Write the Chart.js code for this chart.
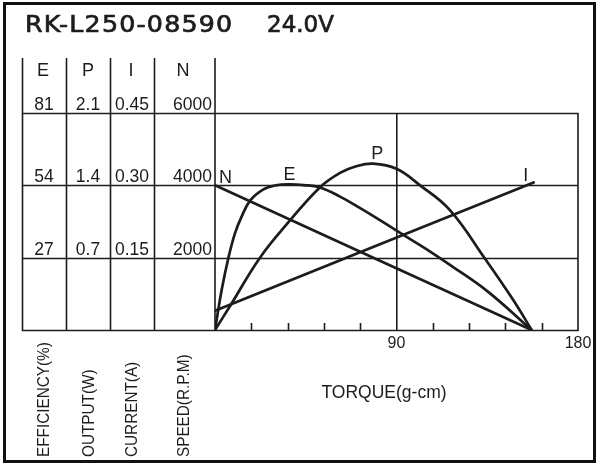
<!DOCTYPE html>
<html><head><meta charset="utf-8">
<script src="https://cdn.jsdelivr.net/npm/chart.js@4.4.1/dist/chart.umd.min.js"></script>
<style>html,body{margin:0;padding:0;background:#fff;}#wrap{width:600px;height:466px;}</style>
</head><body><div id="wrap"><canvas id="c" width="600" height="466"></canvas></div>
<script>
// ---- data ----
const modelName = 'RK-L250-08590';
const voltage = '24.0V';

const torqueN = [0, 157];
const speedN = [4000, 0];

const torqueI = [0, 158];
const currentI = [0.04, 0.306];

const torqueE = [0, 3.3, 6.6, 9.9, 13.2, 17.4, 24, 30, 37, 44, 52, 62, 72, 82, 93.4, 105, 116.5, 135, 157];
const efficiencyE = [0, 14.9, 26.8, 36.1, 42.3, 48.3, 52.5, 54.0, 54.4, 54.1, 53.2, 49.8, 45.5, 40.9, 35.5, 30.1, 24.3, 14.5, 0];

const torqueP = [0, 7.4, 22.3, 37.2, 52, 62, 70, 78.5, 90, 101.7, 116.5, 133.9, 147.9, 157];
const outputP = [0, 0.23, 0.70, 1.06, 1.38, 1.52, 1.585, 1.61, 1.56, 1.40, 1.16, 0.69, 0.29, 0];

const ticksE = [27, 54, 81];
const ticksP = ['0.7', '1.4', '2.1'];
const ticksI = ['0.15', '0.30', '0.45'];
const ticksN = [2000, 4000, 6000];
const labeledTorque = [90, 180];
const columnHeads = ['E', 'P', 'I', 'N'];
const axisTitles = ['EFFICIENCY(%)', 'OUTPUT(W)', 'CURRENT(A)', 'SPEED(R.P.M)'];
const torqueTitle = 'TORQUE(g-cm)';

// ---- build ----
const pts = (xs, ys) => xs.map((x, i) => ({x: x, y: ys[i]}));
const INK = '#1c1c1c';
const FONT = '"Liberation Sans", Arial, sans-serif';

const frame = {
  id: 'frame',
  beforeDatasetsDraw(chart) {
    const ctx = chart.ctx, a = chart.chartArea;
    const x = chart.scales.x, yN = chart.scales.yN;
    const cols = [22.5, 66.5, 110.5, 154.5, a.left];
    ctx.save();
    ctx.strokeStyle = INK;
    ctx.lineWidth = 1.6;
    ctx.beginPath();
    [0].concat(ticksN).forEach(v => {
      const y = Math.round(yN.getPixelForValue(v)) + 0.5;
      ctx.moveTo(cols[0] - 0.8, y); ctx.lineTo(a.right + 0.8, y);
    });
    cols.forEach(cx => { ctx.moveTo(cx, 58); ctx.lineTo(cx, a.bottom); });
    ctx.moveTo(a.right, a.top); ctx.lineTo(a.right, a.bottom);
    ctx.stroke();
    ctx.beginPath();
    x.ticks.forEach(t => {
      if (t.value <= 0 || t.value >= 180 || t.value === 90) return;
      const px = Math.round(x.getPixelForValue(t.value)) + 0.5;
      ctx.moveTo(px, a.bottom); ctx.lineTo(px, a.bottom - 7);
    });
    ctx.stroke();
    ctx.restore();
  },
  afterDraw(chart) {
    const ctx = chart.ctx;
    const s = chart.scales;
    ctx.save();
    ctx.fillStyle = INK;
    ctx.strokeStyle = '#111';
    ctx.lineWidth = 3;
    ctx.strokeRect(4.5, 3.5, 590, 458);
    // title
    ctx.font = '23px "DejaVu Sans", sans-serif';
    ctx.textAlign = 'left'; ctx.textBaseline = 'alphabetic';
    ctx.strokeStyle = INK; ctx.lineWidth = 0.7;
    ctx.save();
    ctx.translate(25, 32);
    ctx.scale(1.1, 1);
    ctx.letterSpacing = '1.1px';
    ctx.fillText(modelName, 0, 0);
    ctx.strokeText(modelName, 0, 0);
    ctx.restore();
    ctx.letterSpacing = '0px';
    ctx.fillText(voltage, 267, 32);
    ctx.strokeText(voltage, 267, 32);
    // column heads
    const centers = [43, 88, 131, 183];
    ctx.font = '18px ' + FONT;
    ctx.textAlign = 'center';
    columnHeads.forEach((h, i) => ctx.fillText(h, centers[i], 76));
    // tick values in table
    ctx.font = '17.5px ' + FONT;
    const rows = [[s.yE, ticksE, 44], [s.yP, ticksP, 88], [s.yI, ticksI, 132]];
    rows.forEach(r => {
      r[1].forEach(v => {
        ctx.fillText(String(v), r[2], r[0].getPixelForValue(Number(v)) - 3);
      });
    });
    ctx.textAlign = 'right';
    ticksN.forEach(v => ctx.fillText(String(v), 212, s.yN.getPixelForValue(v) - 3));
    // vertical axis titles
    ctx.font = '17px ' + FONT;
    ctx.textAlign = 'left'; ctx.textBaseline = 'middle';
    axisTitles.forEach((t, i) => {
      ctx.save();
      ctx.translate(centers[i] + 1, 457);
      ctx.rotate(-Math.PI / 2);
      ctx.scale(0.9, 1);
      ctx.fillText(t, 0, 0);
      ctx.restore();
    });
    // torque title
    ctx.font = '17.5px ' + FONT;
    ctx.textAlign = 'center';
    ctx.fillText(torqueTitle, 384, 393);
    // curve letters
    ctx.font = '18px ' + FONT;
    ctx.textBaseline = 'alphabetic';
    ctx.textAlign = 'left';
    ctx.fillText('N', s.x.getPixelForValue(torqueN[0]) + 4, s.yN.getPixelForValue(speedN[0]) - 2);
    ctx.textAlign = 'center';
    const iE = efficiencyE.indexOf(Math.max(...efficiencyE));
    ctx.fillText('E', s.x.getPixelForValue(torqueE[iE]) + 0, s.yE.getPixelForValue(efficiencyE[iE]) - 4);
    const iP = outputP.indexOf(Math.max(...outputP));
    ctx.fillText('P', s.x.getPixelForValue(torqueP[iP]) + 4, s.yP.getPixelForValue(outputP[iP]) - 5);
    const last = torqueI.length - 1;
    ctx.fillText('I', s.x.getPixelForValue(torqueI[last]) - 8, s.yI.getPixelForValue(currentI[last]) - 1);
    ctx.restore();
  }
};

const lineDs = (data, axis) => ({
  data: data, yAxisID: axis, borderColor: INK, borderWidth: 2.7,
  pointRadius: 0, fill: false, tension: 0.4, borderCapStyle: 'round', borderJoinStyle: 'round'
});

new Chart(document.getElementById('c'), {
  type: 'line',
  data: {
    datasets: [
      lineDs(pts(torqueN, speedN), 'yN'),
      lineDs(pts(torqueE, efficiencyE), 'yE'),
      lineDs(pts(torqueP, outputP), 'yP'),
      lineDs(pts(torqueI, currentI), 'yI')
    ]
  },
  options: {
    responsive: false, animation: false, devicePixelRatio: 1,
    layout: {padding: {left: 215, right: 22, top: 113, bottom: 0}},
    plugins: {legend: {display: false}, tooltip: {enabled: false}, title: {display: false}},
    scales: {
      x: {
        type: 'linear', min: 0, max: 180,
        afterFit(sc) { sc.height = 136; },
        border: {display: false},
        grid: {drawTicks: false, lineWidth: 1.6,
          color: c => (c.tick && c.tick.value === 90) ? INK : 'rgba(0,0,0,0)'},
        ticks: {stepSize: 18, padding: 4, color: INK, maxRotation: 0, autoSkip: false,
          font: {family: FONT, size: 16},
          callback: v => labeledTorque.includes(v) ? String(v) : ''}
      },
      yN: {type: 'linear', min: 0, max: 6000, display: false},
      yE: {type: 'linear', min: 0, max: 81, display: false},
      yP: {type: 'linear', min: 0, max: 2.1, display: false},
      yI: {type: 'linear', min: 0, max: 0.45, display: false}
    }
  },
  plugins: [frame]
});
</script></body></html>
